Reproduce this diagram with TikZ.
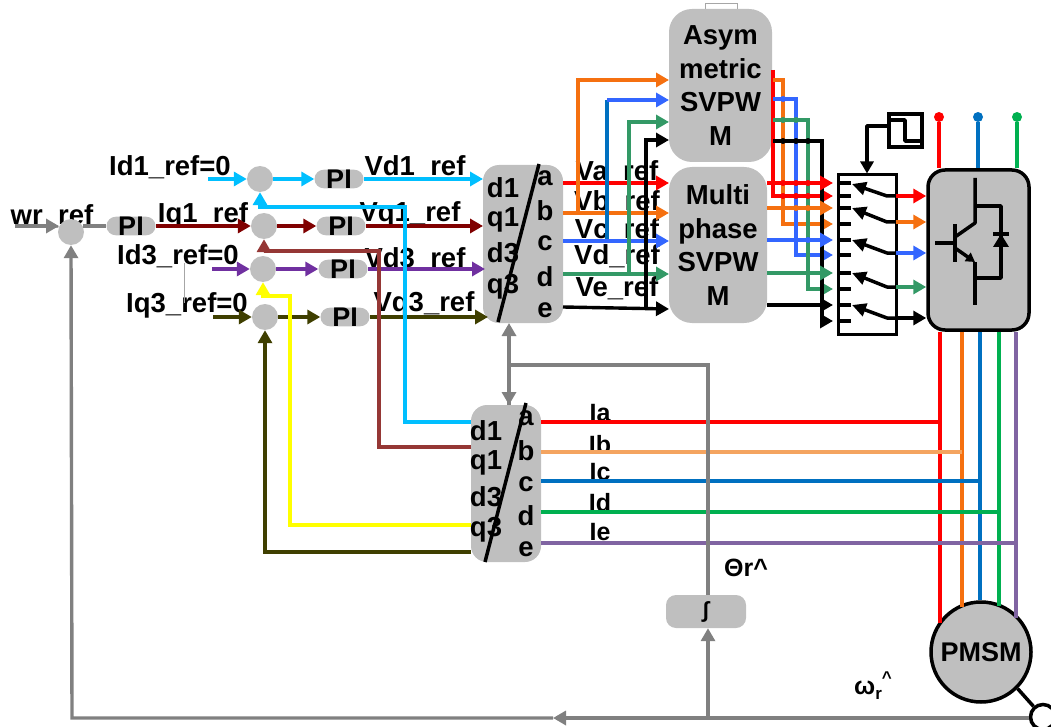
\documentclass[tikz,border=0pt]{standalone}
\usepackage{fontspec}
\setmainfont{Liberation Sans}
\usetikzlibrary{arrows.meta,shapes.geometric,shapes.misc}
\definecolor{blockgray}{HTML}{BFBFBF}
\definecolor{linegray}{HTML}{808080}
\definecolor{cyanline}{HTML}{00BFFF}
\definecolor{darkred}{HTML}{800000}
\definecolor{brownline}{HTML}{953735}
\definecolor{purpleline}{HTML}{7030A0}
\definecolor{oliveline}{HTML}{3F3F00}
\definecolor{yellowline}{HTML}{FFFF00}
\definecolor{orangeline}{HTML}{F57010}
\definecolor{blueline}{HTML}{3366FF}
\definecolor{bluedark}{HTML}{0070C0}
\definecolor{greenline}{HTML}{339966}
\definecolor{ibline}{HTML}{F4A460}
\definecolor{idline}{HTML}{00B050}
\definecolor{ieline}{HTML}{8064A2}
\tikzset{
  lab/.style={font=\fontsize{27.5}{27.5}\selectfont\bfseries,inner sep=0pt,text=black},
  ilab/.style={font=\fontsize{25}{25}\selectfont\bfseries,inner sep=0pt,text=black},
  sumn/.style={circle,fill=blockgray,minimum size=26pt,inner sep=0pt},
  pin/.style={rounded rectangle,fill=blockgray,minimum width=49pt,minimum height=17pt,inner sep=0pt,font=\fontsize{27}{27}\selectfont\bfseries},
  block/.style={rectangle,rounded corners=23pt,fill=blockgray,inner sep=0pt,align=center,font=\fontsize{27.5}{33.5}\selectfont\bfseries},
  trans/.style={rectangle,rounded corners=16pt,fill=blockgray,inner sep=0pt},
  sig/.style={line width=3.4pt,-{Triangle[length=13pt,width=14pt]}},
  wire/.style={line width=3.4pt},
  blk/.style={line width=3.5pt,black,line join=round},
  slash/.style={line width=3.5pt,black},
}
\begin{document}
\begin{tikzpicture}[x=1pt,y=-1pt,line join=miter]
\useasboundingbox (0,0) rectangle (1051,727);

% labels lie under the lines
\node[lab] (lId1) at (170,167) {Id1\_ref=0};
\node[lab] (lwr) at (52,216) {wr\_ref};
\node[lab] (lIq1) at (203,215) {Iq1\_ref};
\node[lab] (lId3) at (178,256) {Id3\_ref=0};
\node[lab] (lIq3) at (187,305) {Iq3\_ref=0};
\node[lab] (lVd1) at (415,167) {Vd1\_ref};
\node[lab] (lVq1) at (410,214) {Vq1\_ref};
\node[lab] (lVd3) at (415,259) {Vd3\_ref};
\node[lab] (lVq3) at (424,304) {Vq3\_ref};
\node[lab] (lVa) at (617,172) {Va\_ref};
\node[lab] (lVb) at (617,202) {Vb\_ref};
\node[lab] (lVc) at (617,230) {Vc\_ref};
\node[lab] (lVd) at (617,256) {Vd\_ref};
\node[lab] (lVe) at (617,288) {Ve\_ref};
\node[ilab] (lIa) at (600,413) {Ia};
\node[ilab] (lIb) at (600,445) {Ib};
\node[ilab] (lIc) at (600,472) {Ic};
\node[ilab] (lId) at (600,503) {Id};
\node[ilab] (lIe) at (600,532) {Ie};
\node[ilab] (ltheta) at (746,568) {Θr\textasciicircum};
\node[ilab] (lomega) at (873,686) {ω\raisebox{-5pt}{\fontsize{17}{17}\selectfont r}\raisebox{11pt}{\fontsize{17}{17}\selectfont\textasciicircum}};

% small outline above the asymmetric block, thin leader between labels
\coordinate (tabA) at (705,9); \coordinate (tabB) at (705,3);
\coordinate (tabC) at (737,3); \coordinate (tabD) at (737,9);
\draw[linegray!70,line width=0.8pt] (tabA) -- (tabB) -- (tabC) -- (tabD);
\coordinate (leadA) at (184,263); \coordinate (leadB) at (184,303);
\draw[linegray!70,line width=0.8pt] (leadA) -- (leadB);

% blocks
\node[sumn] (s0) at (71,232) {};
\node[sumn] (s1) at (260,179) {};
\node[sumn] (s2) at (264,226) {};
\node[sumn] (s3) at (263,269) {};
\node[sumn] (s4) at (265,317) {};
\node[pin] (pi0) at (131,226) {PI};
\node[pin] (pi1) at (339,179) {PI};
\node[pin] (pi2) at (341,226) {PI};
\node[pin] (pi3) at (343,269) {PI};
\node[pin] (pi4) at (345,317) {PI};
\node[trans,minimum width=80pt,minimum height=158pt] (T1) at (523,244) {};
\node[trans,minimum width=70pt,minimum height=157pt] (T2) at (506,483.5) {};
\node[block,minimum width=103pt,minimum height=153pt] (asym) at (720.5,85.5) {Asym\\metric\\SVPW\\M};
\node[block,minimum width=98pt,minimum height=156pt] (multi) at (718,245) {Multi\\phase\\SVPW\\M};
\node[rectangle,rounded corners=10pt,fill=blockgray,minimum width=80pt,minimum height=33pt,inner sep=0pt,font=\fontsize{22}{22}\selectfont\bfseries] (integ) at (706,611.5) {∫};

% transform letters
\foreach \n/\t/\x/\y in {ta/d1/503/188,tb/q1/503/220,tc/d3/503/253,td/q3/503/287,te/a/545/178,tf/b/545/211,tg/c/545/243,th/d/545/277,ti/e/545/310,
 ua/d1/486/431,ub/q1/486/463,uc/d3/486/497,ud/q3/486/530,ue/a/526/418,uf/b/526/451,ug/c/526/484,uh/d/526/516,ui/e/526/549}
  \node[lab] (\n) at (\x,\y) {\t};

% ports
\foreach \n/\x/\y in {
 Ta/563/183,Tb/563/213,Tc/563/241,Td/563/274,Te/563/307,
 Ma/669/183,Mb/669/213,Mc/669/241,Md/669/274,Me/669/309,
 Ab/669/80,Ac/669/100,Ad/669/122,Ae/669/140,
 bb/578/80,bb0/578/213,bc/607/100,bc0/607/241,bd/629/122,bd0/629/274,be/646/140,be0/646/307,
 Ua/541/422,Ub/541/452,Uc/541/481,Ud/541/512,Ue/541/543,
 Ia/941/422,Ib/962/452,Ic/980/481,Id/1000/512,Ie/1016/543,
 Ul1/471/422,Ul2/471/447,Ul3/471/525,Ul4/471/552,
 f1a/405/422,f1b/405/207,f1c/260/207,
 f2a/379/447,f2b/379/251,f2c/264/251,
 f3a/290/525,f3b/290/296,f3c/263/296,
 f4a/265/552,
 in1/208/179,in3/212/269,in4/213/317,inw/15/226,s0in/59/226,s0out/83/226,
 T1y1/483/179,T1y2/483/226,T1y3/485/269,T1y4/488/317,
 fbr/1031/718,fbm/553/718,fbl/72/718,fbi/708/718,
 thA/708/365,thB/509/365,thT/509/323,thU/509/405}
  \coordinate (\n) at (\x,\y);

% input side
\draw[sig,linegray] (inw) -- (s0in);
\draw[wire,linegray] (s0out) -- (pi0.west);
\draw[sig,cyanline] (in1) -- (s1.west);
\draw[sig,cyanline] (s1.east) -- (pi1.west);
\draw[sig,cyanline] (pi1.east) -- (T1y1);
\draw[sig,darkred] (pi0.east) -- (s2.west);
\draw[sig,darkred] (s2.east) -- (pi2.west);
\draw[sig,darkred] (pi2.east) -- (T1y2);
\draw[sig,purpleline] (in3) -- (s3.west);
\draw[sig,purpleline] (s3.east) -- (pi3.west);
\draw[sig,purpleline] (pi3.east) -- (T1y3);
\draw[sig,oliveline] (in4) -- (s4.west);
\draw[sig,oliveline] (s4.east) -- (pi4.west);
\draw[sig,oliveline] (pi4.east) -- (T1y4);

% feedback from lower transform
\draw[sig,oliveline] (Ul4) -- (f4a) -- (s4.south);
\draw[sig,yellowline] (Ul3) -- (f3a) -- (f3b) -- (f3c) -- (s3.south);
\draw[sig,brownline] (Ul2) -- (f2a) -- (f2b) -- (f2c) -- (s2.south);
\draw[sig,cyanline] (Ul1) -- (f1a) -- (f1b) -- (f1c) -- (s1.south);

% reference voltages
\draw[sig,red] (Ta) -- (Ma);
\draw[sig,orangeline] (bb0) -- (bb) -- (Ab);
\draw[sig,orangeline] (Tb) -- (Mb);
\draw[wire,bluedark] (bc0) -- (bc);
\draw[sig,blueline] (bc) -- (Ac);
\draw[sig,blueline] (Tc) -- (Mc);
\draw[sig,greenline] (bd0) -- (bd) -- (Ad);
\draw[sig,greenline] (Td) -- (Md);
\draw[sig,black] (be0) -- (be) -- (Ae);
\draw[sig,black] (Te) -- (Me);

% transform slashes
\coordinate (s1a) at (539,164); \coordinate (s1b) at (498,322);
\coordinate (s2a) at (526,403); \coordinate (s2b) at (485,562);
\draw[slash] (s1a) -- (s1b);
\draw[slash] (s2a) -- (s2b);

% switch box
\node[rectangle,draw=black,line width=3pt,minimum width=58pt,minimum height=159pt,inner sep=0pt] (sw) at (867,254.5) {};
\foreach \n/\y in {p1/183,p2/196,p3/208,p4/224,p5/240,p6/255,p7/273,p8/289,p9/305,p10/321}{
  \coordinate (\n) at (838,\y);
  \coordinate (\n s) at (851,\y);
  \coordinate (\n i) at (833,\y);
  \draw[blk] (\n) -- (\n s);
}
\foreach \n/\ya/\yb in {a1/196/184,a2/222/208,a3/253/240,a4/287/273,a5/318/305}{
  \coordinate (\n x) at (896,\ya);
  \coordinate (\n m) at (887,\ya);
  \coordinate (\n t) at (852,\yb);
  \draw[blk,-{Triangle[length=14pt,width=13pt]}] (\n x) -- (\n m) -- (\n t);
}

% lines from the modulators to the switch
\foreach \n/\x/\y in {Ar/773/196,Ar0/773/70,Ao0/773/80,Ao1/783/80,Ab0/773/99,Ab1/796/99,Ag0/773/120,Ag1/808/120,Ak0/773/141,Ak1/822/141,
 Mr/767/183,Mo/767/208,Mbl/767/240,Mg/767/273,Mk/767/305}
  \coordinate (\n) at (\x,\y);
\draw[sig,red] (Ar0) -- (Ar) -- (p2i);
\draw[sig,orangeline] (Ao0) -- (Ao1) -- (Ao1 |- p4i) -- (p4i);
\draw[sig,blueline] (Ab0) -- (Ab1) -- (Ab1 |- p6i) -- (p6i);
\draw[sig,greenline] (Ag0) -- (Ag1) -- (Ag1 |- p8i) -- (p8i);
\draw[sig,black] (Ak0) -- (Ak1) -- (Ak1 |- p10i) -- (p10i);
\draw[sig,red] (Mr) -- (p1i);
\draw[sig,orangeline] (Mo) -- (p3i);
\draw[sig,blueline] (Mbl) -- (p5i);
\draw[sig,greenline] (Mg) -- (p7i);
\draw[sig,black] (Mk) -- (p9i);
% crossing dots
\foreach \c/\x/\y in {blueline/783/99,greenline/783/120,greenline/796/120,black/783/141,black/796/141,black/808/141,
 red/783/183,red/796/183,red/808/183,red/783/196,red/796/196,red/808/196,orangeline/783/208,orangeline/796/208,orangeline/808/208,blueline/808/240}
  \fill[\c] (\x,\y) circle (3pt);

% inverter
\node[rectangle,rounded corners=17pt,draw=black,fill=blockgray,line width=3.5pt,minimum width=101pt,minimum height=160pt,inner sep=0pt] (inv) at (978.5,250) {};
\draw[sig,red] (a1x) -- (a1x -| inv.west);
\draw[sig,orangeline] (a2x) -- (a2x -| inv.west);
\draw[sig,blueline] (a3x) -- (a3x -| inv.west);
\draw[sig,greenline] (a4x) -- (a4x -| inv.west);
\draw[sig,black] (a5x) -- (a5x -| inv.west);

% leads above inverter
\node[circle,fill=red,minimum size=10pt,inner sep=0pt] (ta1) at (939,117) {};
\node[circle,fill=bluedark,minimum size=10pt,inner sep=0pt] (ta2) at (978,117) {};
\node[circle,fill=idline,minimum size=10pt,inner sep=0pt] (ta3) at (1017,117) {};
\draw[wire,red] (ta1) -- (ta1 |- inv.north);
\draw[wire,bluedark] (ta2) -- (ta2 |- inv.north);
\draw[wire,idline] (ta3) -- (ta3 |- inv.north);

% transistor
\foreach \n/\x/\y in {g1/935/243,g2/955/243,b1/955/224,b2/955/262,c1/955/237,c2/975/223,c3/975/178,e1/955/248,e2/975/262,e3/975/305,d1/975/206,d2/1001/206,d3/1001/278,d4/975/278,da/1001/234,db/993/247,dc/1009/247,dd/993/234,de/1009/234}
  \coordinate (\n) at (\x,\y);
\draw[blk] (g1) -- (g2);
\draw[blk,line width=4pt] (b1) -- (b2);
\draw[blk] (c1) -- (c2) -- (c3);
\draw[blk,-{Triangle[length=9pt,width=10pt]}] (e1) -- (e2);
\draw[blk] (e2) -- (e3);
\draw[blk] (d1) -- (d2) -- (d3) -- (d4);
\draw[blk] (dd) -- (de);
\fill[black] (da) -- (db) -- (dc) -- cycle;

% square wave
\node[rectangle,draw=black,line width=3.5pt,minimum width=33pt,minimum height=33pt,inner sep=0pt] (wave) at (905.5,130.5) {};
\coordinate (w1) at (889,120); \coordinate (w2) at (905,120); \coordinate (w3) at (905,141); \coordinate (w4) at (922,141);
\draw[blk] (w1) -- (w2) -- (w3) -- (w4);
\coordinate (w5) at (889,126); \coordinate (w6) at (867,126);
\draw[blk,-{Triangle[length=12pt,width=13pt]}] (w5) -- (w6) -- (sw.north);

% motor
\node[circle,draw=black,fill=blockgray,line width=3.5pt,minimum size=100pt,inner sep=0pt,font=\fontsize{27}{27}\selectfont\bfseries] (pmsm) at (981,652) {PMSM};
\coordinate (m1) at (940,623); \coordinate (m2) at (962,607); \coordinate (m3) at (980,600); \coordinate (m4) at (999,606); \coordinate (m5) at (1016,618);
\draw[wire,red,line width=4.5pt] (m1 |- inv.south) -- (m1);
\draw[wire,orangeline] (m2 |- inv.south) -- (m2);
\draw[wire,bluedark] (m3 |- inv.south) -- (m3);
\draw[wire,idline] (m4 |- inv.south) -- (m4);
\draw[wire,ieline] (m5 |- inv.south) -- (m5);

% phase currents
\draw[wire,linegray] (thU) -- (thB);
\draw[wire,red] (Ua) -- (Ia);
\draw[wire,ibline] (Ub) -- (Ib);
\draw[wire,bluedark] (Uc) -- (Ic);
\draw[wire,idline] (Ud) -- (Id);
\draw[wire,ieline] (Ue) -- (Ie);

% rotor position / speed
\draw[wire,linegray] (integ.north -| thA) -- (thA) -- (thB);
\draw[sig,linegray] (thB) -- (thT);
\draw[sig,linegray] (thB) -- (thU);
\draw[sig,linegray] (fbi) -- (fbi |- integ.south);
\node[circle,draw=black,fill=white,line width=3.5pt,minimum size=25pt,inner sep=0pt] (enc) at (1043,717) {};
\draw[blk] (pmsm.-45) -- (enc);
\draw[sig,linegray] (enc.west |- fbr) -- (fbm);
\draw[sig,linegray] (fbm) -- (fbl) -- (s0.south);
\end{tikzpicture}
\end{document}
